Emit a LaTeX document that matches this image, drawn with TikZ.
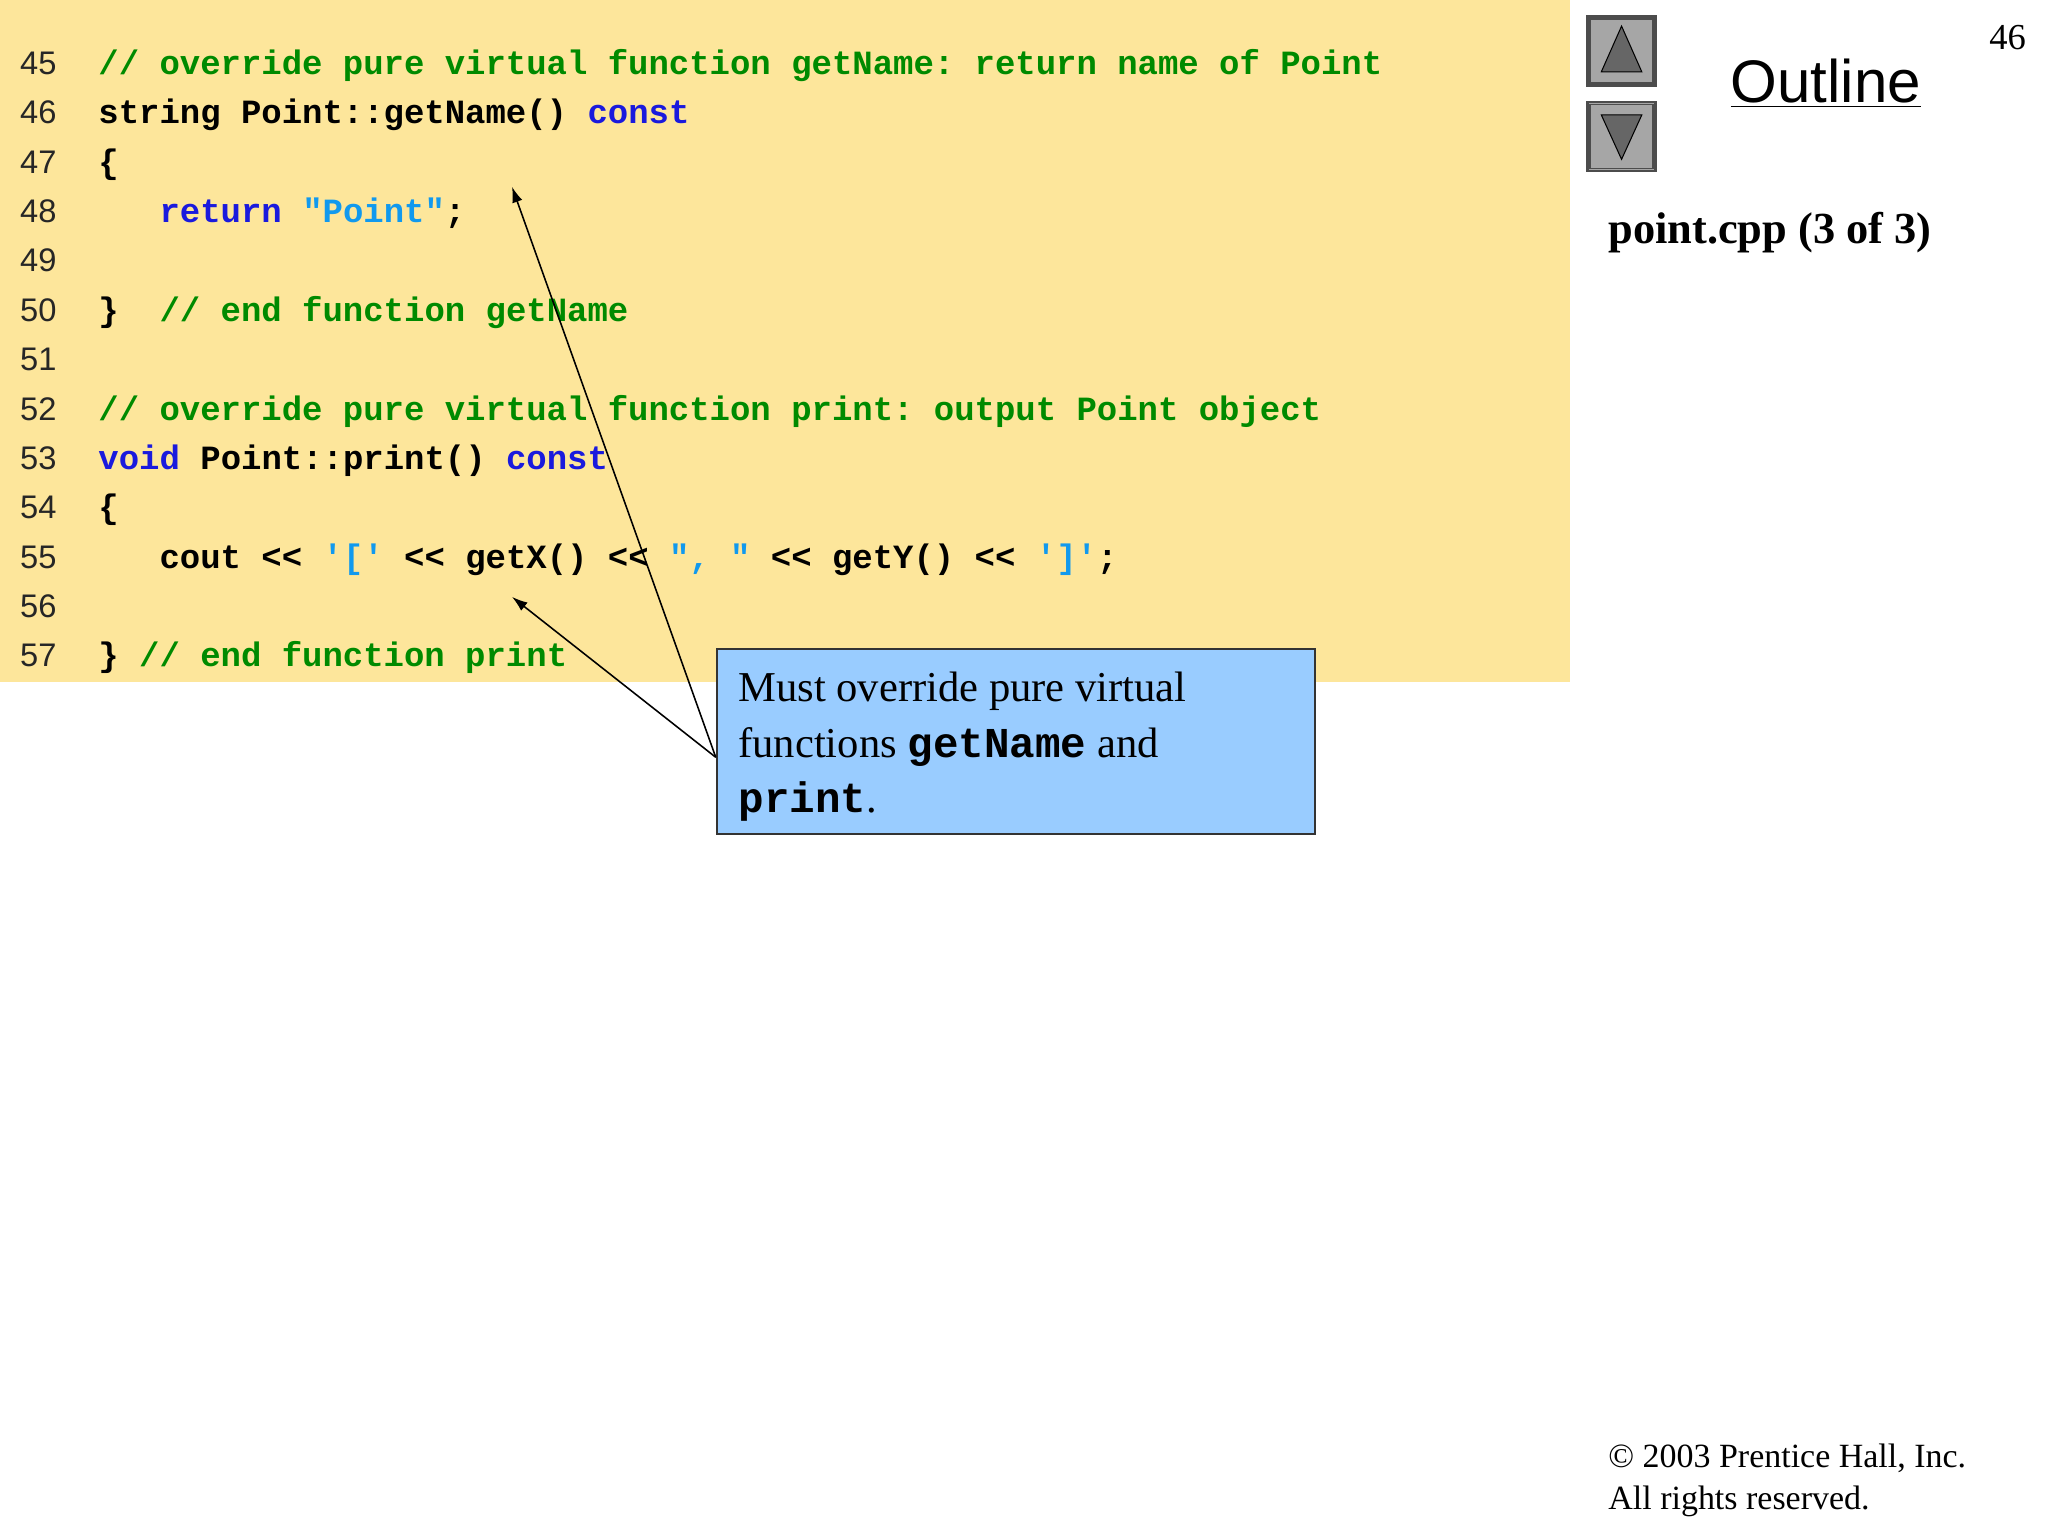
\documentclass[tikz,border=0pt]{standalone}
\usepackage{fontspec}
\setmainfont{Liberation Serif}
\setsansfont{Liberation Sans}
\setmonofont{Liberation Mono}
\usetikzlibrary{arrows.meta}
\definecolor{bgy}{HTML}{FDE69B}
\definecolor{cmt}{HTML}{008A00}
\definecolor{kw}{HTML}{1A1ADD}
\definecolor{str}{HTML}{1199EE}
\definecolor{callout}{HTML}{99CCFF}
\newcommand{\C}[1]{\textcolor{cmt}{#1}}
\newcommand{\K}[1]{\textcolor{kw}{#1}}
\newcommand{\Sx}[1]{\textcolor{str}{#1}}
\newcommand{\LL}{<{}<}
\tikzset{
 num/.style={anchor=base west,inner sep=0,font=\sffamily\fontsize{12.5}{14}\selectfont,text=black!85},
 code/.style={anchor=base west,inner sep=0,font=\ttfamily\bfseries\fontsize{13}{15}\selectfont},
 arr/.style={-{Latex[length=6pt,width=4pt]},line width=0.6pt},
 btn/.style={draw=black!70,fill=black!35,line width=1pt}
}
\begin{document}
\begin{tikzpicture}[x=0.5pt,y=-0.5pt]
\useasboundingbox (0,0) rectangle (1568,1176);
\fill[bgy] (0,0) rectangle (1202,522);
\foreach \n [count=\i from 0] in {45,...,57}{
  \node[num] at (15,57+37.8*\i) {\n};
}
\def\ly#1{57+37.8*#1}
\node[code] at (75,{\ly0}) {\C{// override pure virtual function getName: return name of Point}};
\node[code] at (75,{\ly1}) {string Point::getName() \K{const}};
\node[code] at (75,{\ly2}) {\{};
\node[code] (l48) at (75,{\ly3}) {\phantom{xxx}\K{return} \Sx{"Point"};};
\node[code] at (75,{\ly5}) {\}\phantom{x} \C{// end function getName}};
\node[code] at (75,{\ly7}) {\C{// override pure virtual function print: output Point object}};
\node[code] at (75,{\ly8}) {\K{void} Point::print() \K{const}};
\node[code] at (75,{\ly9}) {\{};
\node[code] at (75,{\ly{10}}) {\phantom{xxx}cout \LL{} \Sx{'['} \LL{} getX() \LL{} \Sx{", "} \LL{} getY() \LL{} \Sx{']'};};
\node[code] at (75,{\ly{12}}) {\} \C{// end function print}};
% callout
\node[draw=black!80,fill=callout,line width=0.8pt,minimum width=458*0.5pt,minimum height=142*0.5pt,anchor=north west,inner sep=0] (co) at (548,496) {};
\node[anchor=north west,align=left,inner sep=0,font=\fontsize{16.3}{21.3}\selectfont] (cot) at (565,514)
 {Must override pure virtual\\functions {\ttfamily\bfseries getName} and\\{\ttfamily\bfseries print}.};
\coordinate (t1) at (392,143);
\coordinate (t2) at (392,457);
\draw[arr] ([yshift=-6]co.west) -- (t1);
\draw[arr] ([yshift=-6]co.west) -- (t2);
% buttons
\node[btn,minimum width=26pt,minimum height=26.5pt,inner sep=0] (up) at (1241.5,39) {};
\node[btn,minimum width=26pt,minimum height=26.5pt,inner sep=0] (dn) at (1241.5,104.5) {};
\draw[black!70,line width=0.6pt] ([shift={(3,3)}]up.north west) rectangle ([shift={(-3,-3)}]up.south east);
\draw[black!70,line width=0.6pt] ([shift={(3,3)}]dn.north west) rectangle ([shift={(-3,-3)}]dn.south east);
\fill[black!60,draw=black] (1241.5,20) -- (1257,55) -- (1226,55) -- cycle;
\fill[black!60,draw=black] (1226,88) -- (1257,88) -- (1241.5,122) -- cycle;
\node[font=\sffamily\fontsize{23}{26}\selectfont,inner sep=0] (ol) at (1398,64) {\underline{Outline}};
\node[font=\fontsize{14}{16}\selectfont,inner sep=0] (pg) at (1537,29) {46};
\node[anchor=west,inner sep=0,font=\bfseries\fontsize{17}{20}\selectfont] (fn) at (1231,178) {point.cpp (3 of 3)};
\node[anchor=north west,align=left,inner sep=0,font=\fontsize{13}{16}\selectfont] (cp) at (1231,1105) {\textcopyright{} 2003 Prentice Hall, Inc.\\All rights reserved.};
\end{tikzpicture}
\end{document}
